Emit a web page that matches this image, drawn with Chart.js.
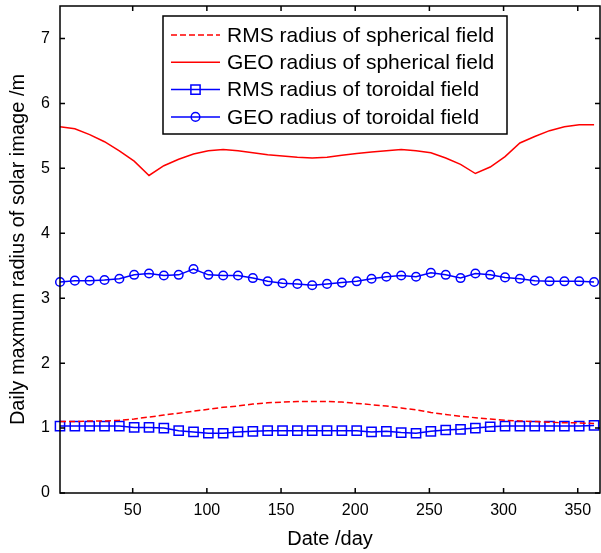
<!DOCTYPE html>
<html>
<head>
<meta charset="utf-8">
<script src="https://cdn.jsdelivr.net/npm/chart.js@4/dist/chart.umd.min.js"></script>
<style>
    body { margin: 0; background: #fff; }
    #radius-chart { display: block; }
</style>
</head>
<body>
<canvas id="radius-chart" width="601" height="553"></canvas>
<script>
// ============================================
// DATA
// ============================================
const days = [1, 11, 21, 31, 41, 51, 61, 71, 81, 91, 101, 111, 121, 131, 141, 151, 161, 171, 181,
    191, 201, 211, 221, 231, 241, 251, 261, 271, 281, 291, 301, 311, 321, 331, 341, 351, 361];

const rmsSpherical = [1.10, 1.10, 1.11, 1.11, 1.12, 1.14, 1.17, 1.20, 1.23, 1.26, 1.29, 1.32, 1.34, 1.37, 1.39, 1.40, 1.41, 1.41, 1.41,
    1.40, 1.38, 1.36, 1.34, 1.31, 1.28, 1.24, 1.21, 1.18, 1.16, 1.14, 1.12, 1.11, 1.10, 1.09, 1.08, 1.08, 1.07];

const geoSpherical = [5.64, 5.61, 5.52, 5.41, 5.27, 5.11, 4.89, 5.04, 5.14, 5.22, 5.27, 5.29, 5.27, 5.24, 5.21, 5.19, 5.17, 5.16, 5.17,
    5.20, 5.23, 5.25, 5.27, 5.29, 5.27, 5.24, 5.16, 5.06, 4.92, 5.02, 5.18, 5.39, 5.49, 5.58, 5.64, 5.67, 5.67];

const rmsToroidal = [1.03, 1.03, 1.03, 1.03, 1.03, 1.01, 1.01, 1.00, 0.96, 0.94, 0.92, 0.92, 0.94, 0.95, 0.96, 0.96, 0.96, 0.96, 0.96,
    0.96, 0.96, 0.94, 0.95, 0.93, 0.92, 0.95, 0.97, 0.98, 1.00, 1.02, 1.03, 1.03, 1.03, 1.03, 1.03, 1.03, 1.04];

const geoToroidal = [3.25, 3.27, 3.27, 3.28, 3.30, 3.36, 3.38, 3.35, 3.36, 3.45, 3.36, 3.35, 3.35, 3.31, 3.26, 3.23, 3.22, 3.20, 3.22,
    3.24, 3.26, 3.30, 3.33, 3.35, 3.33, 3.39, 3.36, 3.31, 3.38, 3.36, 3.32, 3.30, 3.27, 3.26, 3.26, 3.26, 3.25];

const xTicks = [50, 100, 150, 200, 250, 300, 350];
const yTicks = [0, 1, 2, 3, 4, 5, 6, 7];

const seriesLabels = [
    'RMS radius of spherical field',
    'GEO radius of spherical field',
    'RMS radius of toroidal field',
    'GEO radius of toroidal field'
];

const RED = '#ff0000';
const BLUE = '#0000ff';
const FONT = 'Liberation Sans, Arial, Helvetica, sans-serif';

// ============================================
// HELPERS
// ============================================
function punkte(werte) {
    return days.map(function (tag, i) {
        return { x: tag, y: werte[i] };
    });
}

// MATLAB-style box with inward ticks on all four sides
const boxAchsen = {
    id: 'boxAchsen',
    afterDatasetsDraw: function (chart) {
        const ctx = chart.ctx;
        const a = chart.chartArea;
        const xs = chart.scales.x;
        const ys = chart.scales.y;
        const len = 5;

        ctx.save();
        ctx.strokeStyle = '#000';
        ctx.lineWidth = 1.5;
        ctx.beginPath();
        xTicks.forEach(function (v) {
            const x = xs.getPixelForValue(v);
            ctx.moveTo(x, a.bottom); ctx.lineTo(x, a.bottom - len);
            ctx.moveTo(x, a.top); ctx.lineTo(x, a.top + len);
        });
        yTicks.forEach(function (v) {
            const y = ys.getPixelForValue(v);
            ctx.moveTo(a.left, y); ctx.lineTo(a.left + len, y);
            ctx.moveTo(a.right, y); ctx.lineTo(a.right - len, y);
        });
        ctx.stroke();
        ctx.strokeRect(a.left, a.top, a.right - a.left, a.bottom - a.top);
        ctx.restore();
    }
};

// Legend box in the upper middle of the plot
const boxLegende = {
    id: 'boxLegende',
    afterDraw: function (chart) {
        const ctx = chart.ctx;
        const box = { left: 163, top: 16, right: 507, bottom: 134 };
        const zeileY0 = 35;
        const zeilenAbstand = 27.3;
        const linieVon = 171;
        const linieBis = 220;
        const textX = 227;

        ctx.save();
        ctx.fillStyle = '#fff';
        ctx.fillRect(box.left, box.top, box.right - box.left, box.bottom - box.top);
        ctx.strokeStyle = '#000';
        ctx.lineWidth = 1.5;
        ctx.strokeRect(box.left, box.top, box.right - box.left, box.bottom - box.top);

        chart.data.datasets.forEach(function (ds, i) {
            const y = zeileY0 + i * zeilenAbstand;
            ctx.beginPath();
            ctx.setLineDash(ds.borderDash || []);
            ctx.strokeStyle = ds.borderColor;
            ctx.lineWidth = ds.borderWidth;
            ctx.moveTo(linieVon, y);
            ctx.lineTo(linieBis, y);
            ctx.stroke();
            ctx.setLineDash([]);

            if (ds.pointRadius > 0) {
                ctx.lineWidth = ds.pointBorderWidth;
                ctx.strokeStyle = ds.pointBorderColor;
                ctx.fillStyle = 'rgba(0,0,0,0)';
                Chart.helpers.drawPoint(ctx, {
                    pointStyle: ds.pointStyle,
                    radius: ds.pointRadius,
                    rotation: 0,
                    borderWidth: ds.pointBorderWidth
                }, (linieVon + linieBis) / 2, y);
            }

            ctx.fillStyle = '#000';
            ctx.font = '21px ' + FONT;
            ctx.textBaseline = 'middle';
            ctx.textAlign = 'left';
            ctx.fillText(ds.label, textX, y + 1);
        });
        ctx.restore();
    }
};

// ============================================
// CHART
// ============================================
function diagrammErstellen() {
    const canvas = document.querySelector('#radius-chart');

    new Chart(canvas, {
        type: 'line',
        data: {
            datasets: [
                {
                    label: seriesLabels[0],
                    data: punkte(rmsSpherical),
                    borderColor: RED,
                    borderWidth: 1.5,
                    borderDash: [6, 3],
                    pointRadius: 0,
                    pointBorderWidth: 0,
                    tension: 0,
                    clip: false
                },
                {
                    label: seriesLabels[1],
                    data: punkte(geoSpherical),
                    borderColor: RED,
                    borderWidth: 1.5,
                    pointRadius: 0,
                    pointBorderWidth: 0,
                    tension: 0,
                    clip: false
                },
                {
                    label: seriesLabels[2],
                    data: punkte(rmsToroidal),
                    borderColor: BLUE,
                    backgroundColor: 'transparent',
                    borderWidth: 1.5,
                    pointStyle: 'rect',
                    pointRadius: 6.5,
                    pointBorderWidth: 1.5,
                    pointBorderColor: BLUE,
                    pointBackgroundColor: 'transparent',
                    tension: 0,
                    clip: false
                },
                {
                    label: seriesLabels[3],
                    data: punkte(geoToroidal),
                    borderColor: BLUE,
                    backgroundColor: 'transparent',
                    borderWidth: 1.5,
                    pointStyle: 'circle',
                    pointRadius: 4.3,
                    pointBorderWidth: 1.5,
                    pointBorderColor: BLUE,
                    pointBackgroundColor: 'transparent',
                    tension: 0,
                    clip: false
                }
            ]
        },
        options: {
            responsive: false,
            animation: false,
            devicePixelRatio: 1,
            layout: { autoPadding: false, padding: { top: 6, right: 1, left: 0, bottom: 0 } },
            scales: {
                x: {
                    type: 'linear',
                    min: 1,
                    max: 365,
                    grid: { display: false, drawTicks: false },
                    border: { display: false },
                    ticks: { color: '#000', font: { size: 16, family: FONT }, padding: 8, maxRotation: 0 },
                    afterBuildTicks: function (s) {
                        s.ticks = xTicks.map(function (v) { return { value: v }; });
                    },
                    afterFit: function (s) {
                        s.height = 60;
                        s.paddingLeft = 0; s.paddingRight = 0;
                    },
                    title: {
                        display: true,
                        text: 'Date /day',
                        color: '#000',
                        font: { size: 20, family: FONT },
                        padding: { top: 0, bottom: 2 }
                    }
                },
                y: {
                    type: 'linear',
                    min: 0,
                    max: 7.5,
                    grid: { display: false, drawTicks: false },
                    border: { display: false },
                    ticks: { color: '#000', font: { size: 16, family: FONT }, padding: 10 },
                    afterBuildTicks: function (s) {
                        s.ticks = yTicks.map(function (v) { return { value: v }; });
                    },
                    afterFit: function (s) {
                        s.width = 60;
                        s.paddingTop = 0; s.paddingBottom = 0;
                    },
                    title: {
                        display: true,
                        text: 'Daily maxmum radius of solar image /m',
                        color: '#000',
                        font: { size: 20, family: FONT },
                        padding: { top: 6, bottom: 0 }
                    }
                }
            },
            plugins: {
                legend: { display: false },
                tooltip: { enabled: false }
            }
        },
        plugins: [boxAchsen, boxLegende]
    });
}

diagrammErstellen();
</script>
</body>
</html>
